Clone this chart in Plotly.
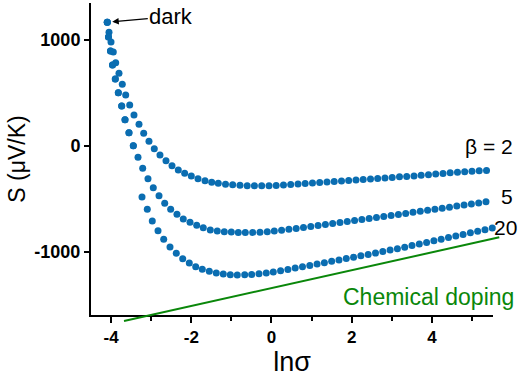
import plotly.graph_objects as go

# ---- data ----
x_b2 = [-4.095,-4.052,-4.002,-3.945,-3.885,-3.803,-3.721,-3.636,-3.536,-3.429,-3.304,-3.187,-3.055,-2.923,-2.781,-2.631,-2.481,-2.324,-2.165,-2.000,-1.833,-1.658,-1.491,-1.327,
        -1.147,-0.968,-0.786,-0.606,-0.426,-0.244,-0.062,0.117,0.299,0.479,0.661,0.840,1.022,1.202,1.384,1.564,1.746,1.925,2.107,2.287,2.469,2.648,2.830,3.010,3.192,3.372,3.554,3.733,3.915,4.095,4.277,4.456,4.638,4.818,5.000,5.180,5.362,5.541]
y_b2 = [1167,1073,981,887,786,686,581,480,386,291,204,119,43,-27,-86,-140,-187,-228,-259,-285,-310,-329,-344,-354,
        -362,-368,-373,-376,-377,-377,-376,-374,-370,-365,-360,-356,-351,-346,-342,-337,-332,-327,-323,-318,-313,-308,-304,-298,-293,-289,-284,-278,-272,-267,-261,-255,-250,-244,-239,-236,-232,-229]

x_b5 = [-4.095,-4.065,-4.015,-3.965,-3.895,-3.820,-3.736,-3.653,-3.554,-3.446,-3.329,-3.212,-3.080,-2.948,-2.805,-2.663,-2.514,-2.357,-2.200,-2.032,-1.865,-1.701,-1.526,-1.352,
        -1.177,-1.002,-0.828,-0.653,-0.469,-0.287,-0.105,
        0.070,0.252,0.434,0.616,0.798,0.980,1.162,1.344,1.526,1.708,1.890,2.072,2.254,2.436,2.618,2.800,2.983,3.165,3.347,3.529,3.711,3.893,4.075,4.257,4.439,4.621,4.803,4.985,5.167,5.349,5.531]
y_b5 = [1167,1028,896,764,631,502,376,247,124,1,-108,-212,-310,-395,-471,-543,-599,-647,-691,-722,-751,-773,-795,-804,
        -811,-815,-818,-819,-818,-816,-811,
        -805,-797,-789,-780,-771,-762,-752,-743,-734,-724,-715,-706,-696,-687,-677,-668,-658,-648,-638,-628,-619,-609,-599,-589,-579,-569,-559,-549,-539,-529,-519]

x_b20 = [-4.095,-4.065,-4.015,-3.965,-3.895,-3.820,-3.736,-3.653,-3.554,-3.446,
         -3.229,-3.097,-2.973,-2.830,-2.688,-2.531,-2.374,-2.214,-2.050,-1.890,-1.726,-1.551,-1.377,-1.202,-1.027,-0.853,-0.668,-0.494,-0.312,-0.130,0.045,
         0.227,0.409,0.591,0.773,0.955,1.137,1.319,1.501,1.683,1.865,2.047,2.229,2.411,2.594,2.776,2.958,3.140,3.322,3.504,3.686,3.868,4.050,4.232,4.414,4.596,4.778,4.960,5.142,5.324,5.506]
y_b20 = [1167,1028,896,764,631,502,376,247,124,1,
         -483,-600,-710,-802,-883,-955,-1015,-1066,-1107,-1142,-1166,-1185,-1201,-1211,-1218,-1219,-1218,-1215,-1209,-1201,-1191,
         -1179,-1167,-1155,-1142,-1130,-1117,-1104,-1091,-1078,-1065,-1052,-1039,-1026,-1013,-999,-985,-971,-957,-942,-927,-912,-897,-882,-867,-852,-837,-822,-807,-792,-777]

x_chem = [-3.678, 5.681]
y_chem = [-1655, -864]

x_ticks = [-4, -2, 0, 2, 4]
x_tick_labels = ["-4", "-2", "0", "2", "4"]
y_ticks = [-1000, 0, 1000]
y_tick_labels = ["-1000", "0", "1000"]

series_labels = ["\u03b2 = 2", "5", "20"]
series_label_y = [-10, -474, -771]

# ---- style ----
BLUE = "#0a6db1"
GREEN = "#0a870a"
FONT = "Liberation Sans, Arial, sans-serif"

fig = go.Figure()
for xs, ys in [(x_b2, y_b2), (x_b5, y_b5), (x_b20, y_b20)]:
    fig.add_trace(go.Scatter(x=xs, y=ys, mode="markers",
                             marker=dict(color=BLUE, size=7, line=dict(width=0)),
                             cliponaxis=False, showlegend=False, hoverinfo="skip"))

fig.add_trace(go.Scatter(x=x_chem, y=y_chem, mode="lines", xaxis="x2", yaxis="y2",
                         line=dict(color=GREEN, width=2), showlegend=False, hoverinfo="skip"))

W, H = 518, 381
ml, mr, mt, mb = 91, 18, 3, 58
pw = W - ml - mr   # plot width in px
ph = H - mt - mb   # plot height in px
x_px_per_unit = 40.1
y_px_per_unit = 0.10585
axis_right_px = 493 - ml
axis_bottom_px = 315 - mt
x_lo = -4.501
y_hi = (145.85 - mt) / y_px_per_unit
xr = [x_lo, x_lo + axis_right_px / x_px_per_unit]
yr = [y_hi - axis_bottom_px / y_px_per_unit, y_hi]
xr2 = [x_lo, x_lo + pw / x_px_per_unit]
yr2 = [y_hi - ph / y_px_per_unit, y_hi]

fig.update_layout(
    width=W, height=H,
    margin=dict(l=ml, r=mr, t=mt, b=mb, pad=0),
    paper_bgcolor="white", plot_bgcolor="rgba(0,0,0,0)",
    font=dict(family=FONT, color="black"),
    xaxis=dict(domain=[0, axis_right_px / pw], range=xr, showgrid=False, zeroline=False,
               showline=True, linecolor="black", linewidth=2,
               ticks="outside", ticklen=6, tickwidth=2, tickcolor="black",
               tickvals=x_ticks, ticktext=x_tick_labels,
               tickfont=dict(family=FONT, size=17, color="black", weight="bold"),
               minor=dict(dtick=1, tick0=-5, ticks="outside", ticklen=4, tickwidth=2, tickcolor="black"),
               title=dict(text="ln\u03c3", font=dict(family=FONT, size=27, color="black"), standoff=2),
               anchor="y"),
    yaxis=dict(domain=[1 - axis_bottom_px / ph, 1], range=yr, showgrid=False, zeroline=False,
               showline=True, linecolor="black", linewidth=2,
               ticks="outside", ticklen=5, tickwidth=2, tickcolor="black",
               tickvals=y_ticks, ticktext=y_tick_labels,
               tickfont=dict(family=FONT, size=18, color="black", weight="bold"),
               title=dict(text="S (\u03bcV/K)", font=dict(family=FONT, size=23, color="black"), standoff=2),
               anchor="x"),
    xaxis2=dict(domain=[0, 1], range=xr2, visible=False, anchor="y2"),
    yaxis2=dict(domain=[0, 1], range=yr2, visible=False, anchor="x2"),
)

# dark annotation with arrow
fig.add_annotation(x=x_b2[0], y=y_b2[0], xref="x", yref="y", text="dark",
                   showarrow=True, arrowhead=2, arrowsize=1, arrowwidth=1.3, arrowcolor="black",
                   standoff=5, ax=64, ay=-6, font=dict(family=FONT, size=22, color="black"))

# series labels (right of the axis end, positioned in paper x)
lab_x = [(515 - ml) / pw, (515 - ml) / pw, (519 - ml) / pw]
for lx, ly, txt in zip(lab_x, series_label_y, series_labels):
    fig.add_annotation(x=lx, y=ly, xref="paper", yref="y", text=txt, showarrow=False,
                       xanchor="right", yanchor="middle",
                       font=dict(family=FONT, size=21, color="black"))

fig.add_annotation(x=(516 - ml) / pw, y=-1425, xref="paper", yref="y", text="Chemical doping", showarrow=False,
                   xanchor="right", yanchor="middle", font=dict(family=FONT, size=23, color=GREEN))

fig.write_html("out.html")
